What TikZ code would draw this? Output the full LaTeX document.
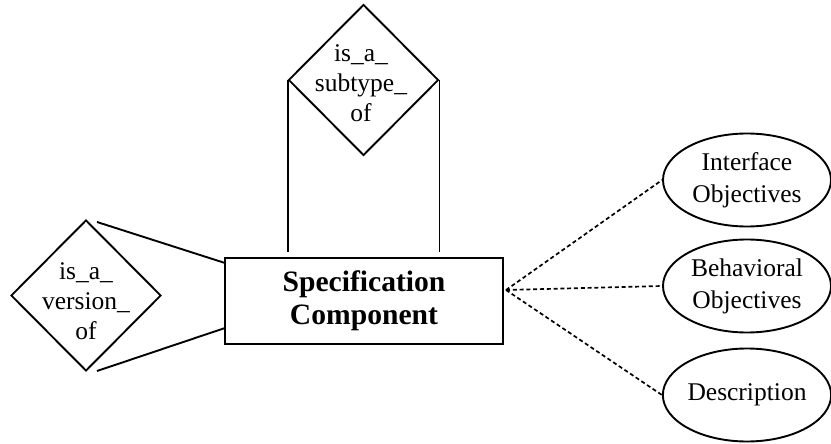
\documentclass[tikz,border=0pt]{standalone}
\usepackage{fontspec}
\setmainfont{Liberation Serif}
\usetikzlibrary{shapes.geometric}

\tikzset{
  lines/.style={line width=1.9pt},
  relation/.style={diamond, draw, lines, minimum width=150pt, minimum height=151pt, inner sep=0pt},
  reltext/.style={align=center, inner sep=0pt, font=\fontsize{25.5}{30}\selectfont},
  entity/.style={rectangle, draw, lines, minimum width=278pt, minimum height=86pt,
                 align=center, font=\bfseries\fontsize{29.6}{33}\selectfont},
  attribute/.style={ellipse, draw, lines, minimum width=168pt, minimum height=93pt,
                    inner sep=0pt, align=center, font=\fontsize{25.5}{32}\selectfont},
  attrlink/.style={line width=1.7pt, dash pattern=on 4pt off 2.8pt}
}

\begin{document}
\begin{tikzpicture}[x=1pt, y=-1pt]
  \useasboundingbox (0,0) rectangle (831,444);

  % central entity
  \node[entity] (spec) at (364,301) {Specification\\Component};

  % subtype relationship above the entity
  \node[relation] (sub) at (363.5,80) {};
  \node[reltext] (subtxt) at (361,83) {is\_a\_\\subtype\_\\of};
  \draw[lines, shorten >=5pt] (sub.west) -- (sub.west |- spec.north);
  \draw[lines, shorten >=5pt] (sub.east) -- (sub.east |- spec.north);

  % version relationship on the left
  \node[relation] (ver) at (86,295.5) {};
  \node[reltext] (vertxt) at (86,301) {is\_a\_\\version\_\\of};
  \coordinate (vtop) at (97,222);
  \coordinate (vbot) at (97,371);
  \coordinate (etop) at (225,263);
  \coordinate (ebot) at (225,328);
  \draw[lines] (vtop) -- (etop);
  \draw[lines] (vbot) -- (ebot);

  % attributes on the right
  \node[attribute] (iface) at (747,180) {Interface\\Objectives};
  \node[attribute] (behav) at (747,286) {Behavioral\\Objectives};
  \node[attribute] (descr) at (747,395) {Description};

  \coordinate (fan) at (506,290);
  \draw[attrlink] (fan) -- (iface.west);
  \draw[attrlink] (fan) -- (behav.west);
  \draw[attrlink] (fan) -- (descr.west);
\end{tikzpicture}
\end{document}
